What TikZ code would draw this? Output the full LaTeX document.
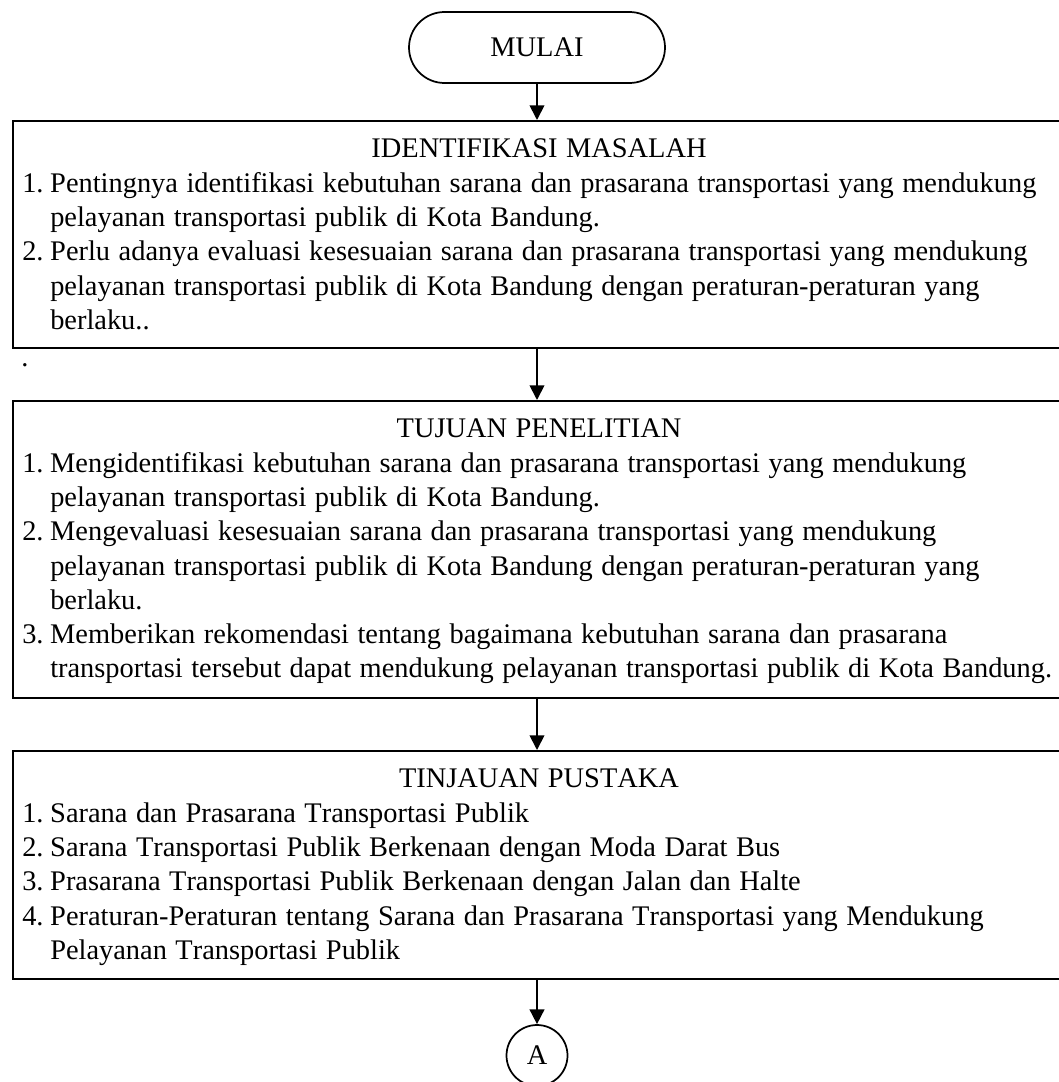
\documentclass[tikz,border=0pt]{standalone}
\usepackage{fontspec}
\setmainfont[Kerning=Off,WordSpace=1.2]{Liberation Serif}
\usetikzlibrary{arrows.meta,shapes.misc}
\begin{document}
\begin{tikzpicture}[x=0.75pt,y=-0.75pt,
  every node/.style={font=\fontsize{21.3pt}{25.7pt}\selectfont, inner sep=0pt},
  frame/.style={draw, line width=1.3pt, rectangle, anchor=north west, minimum width=797.25pt},
  heading/.style={anchor=base},
  body/.style={anchor=north west, align=left},
  term/.style={draw, line width=1.3pt, rounded rectangle, minimum width=192pt, minimum height=53.25pt},
  conn/.style={draw, line width=1.3pt, circle, minimum size=45.75pt},
  arr/.style={line width=1.3pt, -{Triangle[length=11pt,width=11pt]}}]
\useasboundingbox (0,0) rectangle (1059,1082);
\clip (0,0) rectangle (1059,1082);

\node[term] (start) at (537,47.5) {MULAI};

\node[frame, minimum height=170.25pt] (b1) at (12,120) {};
\node[heading] (h1) at (539,157) {IDENTIFIKASI MASALAH};
\node[body] (t1) at (22,168) {\strut\makebox[21pt][l]{1.}Pentingnya identifikasi kebutuhan sarana dan prasarana transportasi yang mendukung\\
\hspace*{21pt}pelayanan transportasi publik di Kota Bandung.\\
\makebox[21pt][l]{2.}Perlu adanya evaluasi kesesuaian sarana dan prasarana transportasi yang mendukung\\
\hspace*{21pt}pelayanan transportasi publik di Kota Bandung dengan peraturan-peraturan yang\\
\hspace*{21pt}berlaku..};

\node[anchor=base west] (dot) at (21,366) {.};

\node[frame, minimum height=222.75pt] (b2) at (12,400) {};
\node[heading] (h2) at (539,437) {TUJUAN PENELITIAN};
\node[body] (t2) at (22,448) {\strut\makebox[21pt][l]{1.}Mengidentifikasi kebutuhan sarana dan prasarana transportasi yang mendukung\\
\hspace*{21pt}pelayanan transportasi publik di Kota Bandung.\\
\makebox[21pt][l]{2.}Mengevaluasi kesesuaian sarana dan prasarana transportasi yang mendukung\\
\hspace*{21pt}pelayanan transportasi publik di Kota Bandung dengan peraturan-peraturan yang\\
\hspace*{21pt}berlaku.\\
\makebox[21pt][l]{3.}Memberikan rekomendasi tentang bagaimana kebutuhan sarana dan prasarana\\
\hspace*{21pt}transportasi tersebut dapat mendukung pelayanan transportasi publik di Kota Bandung.};

\node[frame, minimum height=171pt] (b3) at (12,750) {};
\node[heading] (h3) at (539,787) {TINJAUAN PUSTAKA};
\node[body] (t3) at (22,798) {\strut\makebox[21pt][l]{1.}Sarana dan Prasarana Transportasi Publik\\
\makebox[21pt][l]{2.}Sarana Transportasi Publik Berkenaan dengan Moda Darat Bus\\
\makebox[21pt][l]{3.}Prasarana Transportasi Publik Berkenaan dengan Jalan dan Halte\\
\makebox[21pt][l]{4.}Peraturan-Peraturan tentang Sarana dan Prasarana Transportasi yang Mendukung\\
\hspace*{21pt}Pelayanan Transportasi Publik};

\node[conn] (A) at (537,1055.5) {A};

\draw[arr] (start.south) -- (start.south |- b1.north);
\draw[arr] (b1.south -| start) -- (b2.north -| start);
\draw[arr] (b2.south -| start) -- (b3.north -| start);
\draw[arr] (b3.south -| A) -- (A.north);
\end{tikzpicture}
\end{document}
